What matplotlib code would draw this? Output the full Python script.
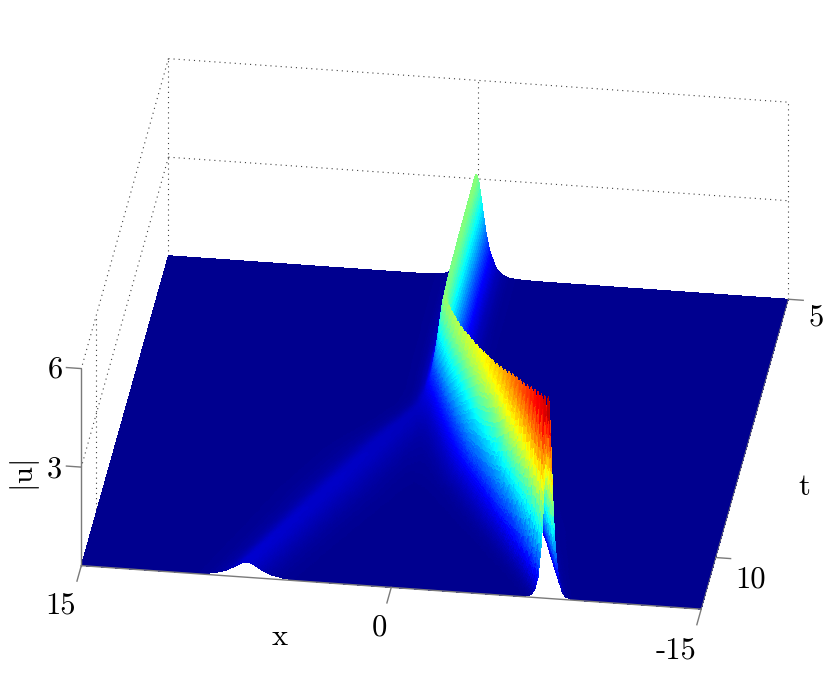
import numpy as np
import matplotlib
matplotlib.use("Agg")
import matplotlib.pyplot as plt
from matplotlib.colors import LinearSegmentedColormap
from mpl_toolkits.mplot3d import proj3d

plt.rcParams['font.family'] = ['cmr10', 'DejaVu Sans']
plt.rcParams['mathtext.fontset'] = 'cm'
plt.rcParams['axes.unicode_minus'] = False

# ---- values ----
x_ticks = [15, 0, -15]
t_ticks = [10, 5]
z_ticks = [3, 6]
x_limits = (-15, 15)
t_limits = (5, 11)
z_limits = (0, 6)

# one entry per time row, t = 5, 5.125, ... 11
main_centre = [0.10, 0.10, 0.10, 0.10, 0.10, 0.10, 0.10, 0.10, 0.10, 0.09, 0.09, 0.08, 0.08, 0.07, 0.07, 0.06, 0.05,
               0.03, 0.00, -0.07, -0.20, -0.42, -0.64, -0.87, -1.10, -1.35, -1.62, -1.90, -2.17, -2.45, -2.73, -3.00,
               -3.28, -3.57, -3.87, -4.16, -4.45, -4.73, -5.00, -5.27, -5.54, -5.80, -6.07, -6.33, -6.59, -6.84,
               -7.09, -7.34, -7.60]
main_height = [3.14, 3.14, 3.13, 3.13, 3.12, 3.12, 3.11, 3.11, 3.10, 3.10, 3.09, 3.09, 3.08, 3.08, 3.07, 3.07, 3.06,
               3.06, 3.08, 3.12, 3.18, 3.25, 3.31, 3.38, 3.43, 3.49, 3.56, 3.64, 3.71, 3.79, 3.87, 3.96,
               4.06, 4.16, 4.25, 4.36, 4.49, 4.62, 4.76, 4.90, 5.00, 5.12, 5.27, 5.41, 5.56, 5.70,
               5.85, 6.00, 6.15]
main_steep = [3.1] * 17 + [3.1, 3.1, 3.0, 2.9, 2.8, 2.7, 2.6, 2.5, 2.4, 2.3, 2.2, 2.1, 2.05, 2.0, 2.0, 2.0,
                           2.1, 2.15, 2.2, 2.3, 2.4, 2.5, 2.7, 2.9, 3.1, 3.3, 3.6, 4.0, 4.4, 4.9, 5.4, 6.0]
weak_centre = [0.0] * 18 + [0.10, 0.30, 0.53, 0.76, 0.99, 1.22, 1.45, 1.68, 1.92, 2.15, 2.38, 2.61, 2.84, 3.07,
                            3.30, 3.53, 3.76, 3.99, 4.22, 4.45, 4.68, 4.92, 5.15, 5.38, 5.61, 5.84, 6.07, 6.30,
                            6.53, 6.76, 7.00]
weak_height = [0.0] * 18 + [0.03, 0.08, 0.16, 0.22, 0.26, 0.29, 0.31, 0.33, 0.34, 0.35, 0.36, 0.36, 0.37, 0.38,
                            0.38, 0.39, 0.40, 0.40, 0.40, 0.41, 0.41, 0.42, 0.42, 0.43, 0.43, 0.44, 0.44, 0.45,
                            0.45, 0.46, 0.46]
weak_steep = [2.0] * 18 + [2.0, 2.0, 2.0, 1.9, 1.8, 1.7, 1.6, 1.5, 1.4, 1.35, 1.3, 1.3, 1.3, 1.3,
                           1.3, 1.3, 1.3, 1.3, 1.35, 1.35, 1.4, 1.4, 1.45, 1.45, 1.5, 1.5, 1.55, 1.55,
                           1.6, 1.6, 1.65]
# cross-section of a hump: height fraction against scaled distance from its crest
profile_dist = [0, 0.25, 0.5, 1.0, 1.5, 2.0, 3.0, 4.0, 5.0, 7.0, 10.0]
profile_frac = [1.0, 0.97, 0.887, 0.648, 0.425, 0.266, 0.099, 0.037, 0.013, 0.002, 0.0]

# ---- surface rows ----
n_rows = len(main_centre)
t_rows = np.linspace(t_limits[0], t_limits[1], n_rows)
# dense columns where the ridges run, coarse over the flat margins
x_cols = np.concatenate([np.linspace(-15, -10, 6)[:-1], np.linspace(-10, 10, 601), np.linspace(10, 15, 6)[1:]])


def hump(centre, height, steep):
    return height * np.interp(np.abs(x_cols - centre) * steep, profile_dist, profile_frac)


Z_rows = np.array([
    hump(c, h, s) + hump(wc, wh, ws)
    for c, h, s, wc, wh, ws in zip(main_centre, main_height, main_steep, weak_centre, weak_height, weak_steep)
])
# shade smoothly between the sampled rows
t_fine = np.linspace(t_limits[0], t_limits[1], (n_rows - 1) * 5 + 1)
Z = np.array([np.interp(t_fine, t_rows, Z_rows[:, j]) for j in range(x_cols.size)]).T
X, T = np.meshgrid(x_cols, t_fine)

# ---- figure ----
W, H = 830, 688
fig = plt.figure(figsize=(W / 100, H / 100), dpi=100)
SIDE = 1100
ax = fig.add_axes([0, 0, SIDE / W, SIDE / H], projection='3d')
ax.set_proj_type('ortho')
ax.view_init(elev=30, azim=98)
ax.set_xlim(*x_limits)
ax.set_ylim(*t_limits)
ax.set_zlim(*z_limits)
ax.set_axis_off()
ax.computed_zorder = False
ax.patch.set_alpha(0)
aspect = (1, 1, 0.3635)
ax.set_box_aspect(aspect, zoom=1.0)

anchors = [((15, 11, 0), (82, 567)), ((-15, 11, 0), (700, 612)), ((-15, 5, 0), (789, 298)),
           ((15, 5, 0), (168, 254)), ((15, 11, 6), (82, 369)), ((15, 5, 6), (168, 57))]


def project():
    ax.apply_aspect()
    M = ax.get_proj()
    out = []
    for (a, b, c), _ in anchors:
        u, v, _w = proj3d.proj_transform(a, b, c, M)
        out.append(ax.transData.transform((u, v)))
    return np.array(out)


goal = np.array([[p[0], H - p[1]] for _, p in anchors], float)
cur = project()
scale = (goal[:, 0].max() - goal[:, 0].min()) / (cur[:, 0].max() - cur[:, 0].min())
ax.set_box_aspect(aspect, zoom=scale)
cur = project()
shift = (goal - cur).mean(axis=0)
ax.set_position([shift[0] / W, shift[1] / H, SIDE / W, SIDE / H])

DOT = dict(color='#404040', lw=0.8, linestyle=(0, (1, 3.6)), zorder=1)
GREY = dict(color='#7a7a7a', lw=1.0, zorder=5)
x0, x1 = 15, -15
t0, t1 = 5, 11
for zv in z_ticks:
    ax.plot([x0, x1], [t0, t0], [zv, zv], **DOT)
    ax.plot([x0, x0], [t0, t1], [zv, zv], **DOT)
for xv in x_ticks:
    ax.plot([xv, xv], [t0, t0], [0, 6], **DOT)
for tv in t_ticks[:1]:
    ax.plot([x0, x0], [tv, tv], [0, 6], **DOT)

jet = LinearSegmentedColormap.from_list('matlab_jet', [
    (0.0, (0, 0, 0.5625)), (0.125, (0, 0, 1)), (0.375, (0, 1, 1)),
    (0.625, (1, 1, 0)), (0.875, (1, 0, 0)), (1.0, (0.5, 0, 0))], N=256)
ax.plot_surface(X, T, Z, rstride=1, cstride=1, cmap=jet, vmin=0, vmax=6.15,
                shade=False, linewidth=0, antialiased=False, zorder=2)

ax.plot([x0, x1], [t1, t1], [0, 0], **GREY)
ax.plot([x1, x1], [t1, t0], [0, 0], color='#7a7a7a', lw=0.6, zorder=5)
ax.plot([x0, x0], [t1, t1], [0, 6], **GREY)
for xv in x_ticks:
    ax.plot([xv, xv], [t1, t1 + 0.3], [0, 0], **GREY)
for tv in t_ticks:
    ax.plot([x1, x1 - 0.72], [tv, tv], [0, 0], **GREY)
for zv in z_ticks:
    ax.plot([x0, x0 + 0.72], [t1, t1], [zv, zv], **GREY)

LABEL = dict(fontsize=22, ha='center', va='center', color='black')


def label(px, py, s, **kw):
    fig.text(px / W, 1 - py / H, s, **{**LABEL, **kw})


label(55, 370, '6')
label(54, 470, '3')
label(61, 606, '15')
label(379, 628, '0')
label(676, 651, '-15')
label(816, 318, '5')
label(751, 580, '10')
label(804, 487, 't')
label(280, 637, 'x')
label(25, 476, r'$\mathrm{|u|}$', rotation=90)

fig.savefig('out.png', dpi=100)
